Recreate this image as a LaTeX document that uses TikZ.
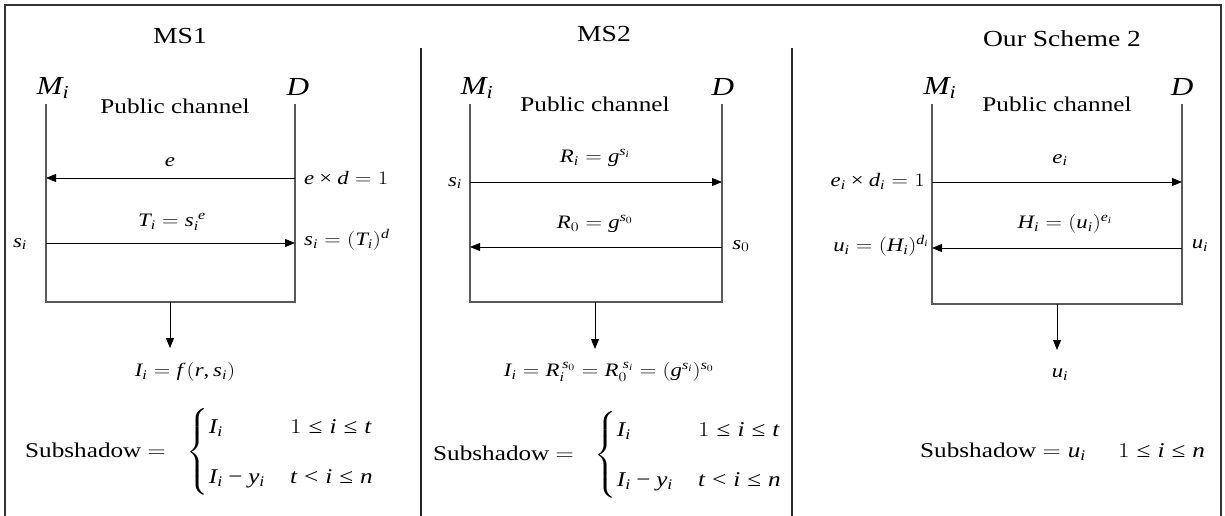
\RequirePackage{fix-cm}
\documentclass[tikz,border=0pt]{standalone}
\usepackage{amsmath}
\usepackage{fontspec}
\setmainfont{Liberation Serif}
\newfontfamily\timesfam[NFSSFamily=libser]{Liberation Serif}
\DeclareSymbolFont{tletters}{TU}{libser}{m}{it}
\DeclareSymbolFont{toperators}{TU}{libser}{m}{n}
\newcommand{\setlet}[1]{\DeclareMathSymbol{#1}{\mathalpha}{tletters}{`#1}}
\setlet{e}\setlet{d}\setlet{T}\setlet{s}\setlet{i}\setlet{R}\setlet{g}
\setlet{I}\setlet{f}\setlet{r}\setlet{y}\setlet{t}\setlet{n}\setlet{u}
\setlet{H}\setlet{D}\setlet{M}
\DeclareMathSymbol{0}{\mathalpha}{toperators}{`0}
\DeclareMathSymbol{1}{\mathalpha}{toperators}{`1}
\DeclareMathSymbol{=}{\mathrel}{toperators}{`=}
\DeclareMathSymbol{(}{\mathopen}{toperators}{`(}
\DeclareMathSymbol{)}{\mathclose}{toperators}{`)}
\DeclareMathSymbol{,}{\mathpunct}{toperators}{`,}
\DeclareMathSymbol{<}{\mathrel}{toperators}{`<}
\Umathchardef\myle="3 \symtoperators "2264
\Umathchardef\mytimes="2 \symtoperators "00D7
\Umathchardef\myminus="2 \symtoperators "2212
\usetikzlibrary{arrows.meta}
\newcommand{\X}[1]{\scalebox{1.2}[1]{#1}}
\tikzset{
  frame/.style={draw=black!80, line width=1.3pt},
  divider/.style={draw=black!85, line width=2.5pt},
  life/.style={draw=black!65, line width=1.2pt},
  msg/.style={draw=black, line width=0.9pt, -{Triangle[length=10pt,width=8pt]}},
  ttl/.style={font=\fontsize{23}{27}\selectfont, inner sep=0pt},
  party/.style={font=\fontsize{26}{30}\selectfont, inner sep=0pt},
  chan/.style={font=\fontsize{21}{25}\selectfont, inner sep=0pt},
  lbl/.style={font=\fontsize{19}{23}\selectfont, inner sep=0pt},
  sub/.style={font=\fontsize{21}{25}\selectfont, inner sep=0pt},
}
\begin{document}
\begin{tikzpicture}[x=1pt,y=-1pt]
\useasboundingbox (0,0) rectangle (1225,516);
% frame and dividers
\coordinate (fbl) at (5,516); \coordinate (ftl) at (5,5);
\coordinate (ftr) at (1221,5); \coordinate (fbr) at (1221,516);
\draw[frame] (fbl) -- (ftl) -- (ftr) -- (fbr);
\coordinate (v1t) at (421,48); \coordinate (v1b) at (421,516);
\coordinate (v2t) at (792,48); \coordinate (v2b) at (792,516);
\draw[divider] (v1t) -- (v1b);
\draw[divider] (v2t) -- (v2b);

% ===== MS1 =====
\node[ttl] (t1) at (180,36) {\X{MS1}};
\node[party] (mi1) at (53,88) {\X{$M_i$}};
\node[party] (dd1) at (298,87) {\X{$D$}};
\node[chan] (pc1) at (175,106) {\X{Public channel}};
\coordinate (m1t) at (46,104); \coordinate (m1b) at (46,302);
\coordinate (d1t) at (295,104); \coordinate (d1b) at (295,302);
\draw[life] (m1t) -- (m1b) -- (d1b) -- (d1t);
\coordinate (a1d) at (295,178); \coordinate (a1m) at (46,178);
\coordinate (b1m) at (46,243); \coordinate (b1d) at (295,243);
\draw[msg] (a1d) -- (a1m);
\draw[msg] (b1m) -- (b1d);
\node[lbl] (le1) at (170,162) {\X{$e$}};
\node[lbl, anchor=west] (ed1) at (304,178) {\X{$e\mytimes d=1$}};
\node[lbl] (lt1) at (172,222) {\X{$T_i=s_i^{\;e}$}};
\node[lbl] (si1) at (20,244) {\X{$s_i$}};
\node[lbl, anchor=west] (st1) at (304,240) {\X{$s_i=(T_i)^d$}};
\coordinate (c1s) at (170,302); \coordinate (c1e) at (170,348);
\draw[msg] (c1s) -- (c1e);
\node[lbl] (ii1) at (185,372) {\X{$I_i=f\,(r,s_i)$}};
\node[sub, anchor=west] (ss1) at (25,452) {\X{Subshadow $=\;\;\begin{cases} I_i & 1\myle i\myle t\\[20pt] I_i\myminus y_i & t<i\myle n\end{cases}$}};

% ===== MS2 =====
\node[ttl] (t2) at (604,34) {\X{MS2}};
\node[party] (mi2) at (477,88) {\X{$M_i$}};
\node[party] (dd2) at (723,87) {\X{$D$}};
\node[chan] (pc2) at (595,104) {\X{Public channel}};
\coordinate (m2t) at (470,104); \coordinate (m2b) at (470,302);
\coordinate (d2t) at (722,104); \coordinate (d2b) at (722,302);
\draw[life] (m2t) -- (m2b) -- (d2b) -- (d2t);
\coordinate (a2m) at (470,182); \coordinate (a2d) at (722,182);
\coordinate (b2d) at (722,247); \coordinate (b2m) at (470,247);
\draw[msg] (a2m) -- (a2d);
\draw[msg] (b2d) -- (b2m);
\node[lbl] (lr2) at (595,158) {\X{$R_i=g^{s_i}$}};
\node[lbl] (si2) at (455,183) {\X{$s_i$}};
\node[lbl] (lr02) at (595,224) {\X{$R_0=g^{s_0}$}};
\node[lbl] (s02) at (741,246) {\X{$s_0$}};
\coordinate (c2s) at (595,302); \coordinate (c2e) at (595,349);
\draw[msg] (c2s) -- (c2e);
\node[lbl] (ii2) at (609,372) {\X{$I_i=R_i^{\,s_0}=R_0^{\;s_i}=(g^{s_i})^{s_0}$}};
\node[sub, anchor=west] (ss2) at (433,455) {\X{Subshadow $=\;\;\begin{cases} I_i & 1\myle i\myle t\\[20pt] I_i\myminus y_i & t<i\myle n\end{cases}$}};

% ===== Our Scheme 2 =====
\node[ttl] (t3) at (1062,39) {\X{Our Scheme 2}};
\node[party] (mi3) at (940,88) {\X{$M_i$}};
\node[party] (dd3) at (1182,87) {\X{$D$}};
\node[chan] (pc3) at (1057,104) {\X{Public channel}};
\coordinate (m3t) at (932,104); \coordinate (m3b) at (932,304);
\coordinate (d3t) at (1182,104); \coordinate (d3b) at (1182,304);
\draw[life] (m3t) -- (m3b) -- (d3b) -- (d3t);
\coordinate (a3m) at (932,182); \coordinate (a3d) at (1182,182);
\coordinate (b3d) at (1182,248); \coordinate (b3m) at (932,248);
\draw[msg] (a3m) -- (a3d);
\draw[msg] (b3d) -- (b3m);
\node[lbl] (le3) at (1060,160) {\X{$e_i$}};
\node[lbl, anchor=east] (ed3) at (925,181) {\X{$e_i\mytimes d_i=1$}};
\node[lbl] (lh3) at (1065,224) {\X{$H_i=(u_i)^{e_i}$}};
\node[lbl] (ui3) at (1200,246) {\X{$u_i$}};
\node[lbl, anchor=east] (uh3) at (929,246) {\X{$u_i=(H_i)^{d_i}$}};
\coordinate (c3s) at (1057,304); \coordinate (c3e) at (1057,350);
\draw[msg] (c3s) -- (c3e);
\node[lbl] (uo3) at (1060,375) {\X{$u_i$}};
\node[sub, anchor=west] (ss3) at (920,452) {\X{Subshadow $=u_i\quad\; 1\myle i\myle n$}};
\end{tikzpicture}
\end{document}
